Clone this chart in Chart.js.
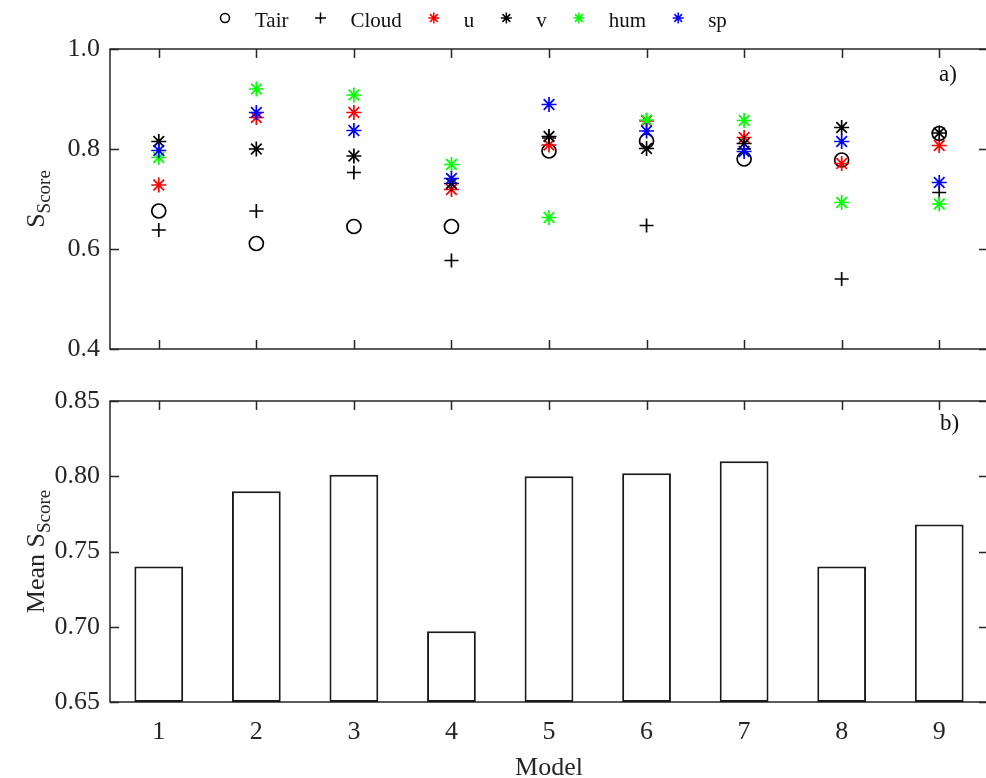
<!DOCTYPE html>
<html>
<head>
<meta charset="utf-8">
<script src="https://cdn.jsdelivr.net/npm/chart.js@4.4.1/dist/chart.umd.min.js"></script>
<style>
  html, body { margin:0; padding:0; background:#fff; overflow:hidden; width:986px; height:778px; }
  canvas { position:absolute; left:0; }
  #top { top:0; }
  #bot { top:380px; }
</style>
</head>
<body>
<canvas id="top" width="1000" height="380"></canvas>
<canvas id="bot" width="1000" height="404"></canvas>
<script>
// ---------- data ----------
const models = ['1','2','3','4','5','6','7','8','9'];
const tair  = [0.676, 0.611, 0.645, 0.645, 0.796, 0.816, 0.780, 0.778, 0.831];
const cloud = [0.638, 0.676, 0.753, 0.577, 0.822, 0.647, 0.800, 0.540, 0.713];
const u     = [0.728, 0.863, 0.873, 0.719, 0.808, 0.856, 0.823, 0.771, 0.807];
const v     = [0.815, 0.800, 0.786, 0.731, 0.825, 0.801, 0.811, 0.843, 0.832];
const hum   = [0.783, 0.920, 0.908, 0.769, 0.663, 0.858, 0.857, 0.693, 0.690];
const sp    = [0.797, 0.873, 0.837, 0.741, 0.889, 0.836, 0.795, 0.815, 0.733];
const meanScore = [0.740, 0.790, 0.801, 0.697, 0.800, 0.802, 0.810, 0.740, 0.768];
const topTicks = [0.4, 0.6, 0.8, 1.0];
const botTicks = [0.65, 0.70, 0.75, 0.80, 0.85];

const FONT = '"Liberation Serif", "Times New Roman", serif';
const AXC = '#262626';

function ds(label, data, style, color, idx) {
  return {
    label, data, showLine:false,
    pointStyle: style, pointRadius: style === 'star' ? 7.5 : 7, pointBorderWidth: 1.7,
    borderColor: color, pointBorderColor: color,
    backgroundColor: 'rgba(0,0,0,0)', pointBackgroundColor: 'rgba(0,0,0,0)',
    order: 10 - idx
  };
}

const framePlugin = {
  id: 'frame',
  beforeDatasetsDraw(chart) {
    const {ctx, chartArea:a, scales:{x, y}} = chart;
    const L = 9;
    ctx.save();
    ctx.strokeStyle = AXC;
    ctx.lineWidth = 1.5;
    ctx.beginPath();
    y.ticks.forEach(t => {
      const py = Math.round(y.getPixelForValue(t.value)) + 0.5;
      ctx.moveTo(a.left, py); ctx.lineTo(a.left + L, py);
      ctx.moveTo(a.right, py); ctx.lineTo(a.right - L, py);
    });
    chart.data.labels.forEach((_, i) => {
      const px = Math.round(x.getPixelForValue(i)) + 0.5;
      ctx.moveTo(px, a.top); ctx.lineTo(px, a.top + L);
      ctx.moveTo(px, a.bottom); ctx.lineTo(px, a.bottom - L);
    });
    ctx.stroke();
    ctx.strokeRect(a.left, a.top, a.right - a.left, a.bottom - a.top);
    ctx.restore();
  }
};

function yTitlePlugin(main, sub, cx) {
  return {
    id: 'ytitle',
    afterDraw(chart) {
      const {ctx, chartArea:a} = chart;
      const cy = (a.top + a.bottom) / 2;
      ctx.save();
      ctx.translate(cx, cy);
      ctx.rotate(-Math.PI / 2);
      ctx.fillStyle = AXC;
      ctx.textBaseline = 'alphabetic';
      ctx.textAlign = 'left';
      const mf = '26px ' + FONT, sf = '19px ' + FONT;
      ctx.font = mf; const w1 = ctx.measureText(main).width;
      ctx.font = sf; const w2 = ctx.measureText(sub).width;
      const x0 = -(w1 + w2) / 2;
      ctx.font = mf; ctx.fillText(main, x0, 0);
      ctx.font = sf; ctx.fillText(sub, x0 + w1, 6);
      ctx.restore();
    }
  };
}

function panelLabel(text, px, py) {
  return {
    id: 'plabel',
    afterDraw(chart) {
      const ctx = chart.ctx;
      ctx.save();
      ctx.font = '23px ' + FONT;
      ctx.fillStyle = '#111';
      ctx.textAlign = 'left';
      ctx.textBaseline = 'alphabetic';
      ctx.fillText(text, px, py);
      ctx.restore();
    }
  };
}

const legendPlugin = {
  id: 'customLegend',
  afterDraw(chart) {
    const ctx = chart.ctx;
    ctx.save();
    ctx.textBaseline = 'alphabetic';
    ctx.textAlign = 'left';
    let x = 206;
    const ym = 18, base = 27;
    chart.data.datasets.forEach(d => {
      const mx = x + 19;
      const r = d.pointStyle === 'circle' ? 4.5 : 5.5;
      ctx.strokeStyle = d.pointBorderColor;
      ctx.fillStyle = 'rgba(0,0,0,0)';
      ctx.lineWidth = 1.5;
      Chart.helpers.drawPoint(ctx, {pointStyle: d.pointStyle, radius: r, rotation: 0, borderWidth: 1.5}, mx, ym);
      ctx.font = '21px ' + FONT;
      ctx.fillStyle = '#111';
      const tx = x + 49;
      ctx.fillText(d.label, tx, base);
      x = tx + ctx.measureText(d.label).width + 13;
    });
    ctx.restore();
  }
};

const yTickFont = {family: FONT, size: 26};
function fixY(s) { s.width = 110; s.paddingTop = 0; s.paddingBottom = 0; }

new Chart(document.getElementById('top'), {
  type: 'line',
  data: {
    labels: models,
    datasets: [
      ds('Tair', tair, 'circle', '#000000', 0),
      ds('Cloud', cloud, 'cross', '#000000', 1),
      ds('u', u, 'star', '#ff0000', 2),
      ds('v', v, 'star', '#000000', 3),
      ds('hum', hum, 'star', '#00ff00', 4),
      ds('sp', sp, 'star', '#0000ff', 5)
    ]
  },
  options: {
    responsive: false, animation: false,
    layout: {autoPadding: false, padding: {top: 49, bottom: 31, left: 0, right: 12}},
    plugins: {legend: {display: false}, tooltip: {enabled: false}},
    scales: {
      x: {type: 'category', offset: true, display: false},
      y: {
        min: 0.4, max: 1.0,
        afterBuildTicks(s) { s.ticks = topTicks.map(vv => ({value: vv})); },
        ticks: {font: yTickFont, color: AXC, padding: 10, callback: vv => Number(vv).toFixed(1)},
        grid: {display: false, drawTicks: false},
        border: {display: false},
        afterFit: fixY
      }
    }
  },
  plugins: [framePlugin, legendPlugin, yTitlePlugin('S', 'Score', 44), panelLabel('a)', 939, 81)]
});

new Chart(document.getElementById('bot'), {
  type: 'bar',
  data: {
    labels: models,
    datasets: [{
      label: 'Mean S_Score', data: meanScore, base: 0.65,
      backgroundColor: '#ffffff', borderColor: '#1a1a1a', borderWidth: 2,
      borderSkipped: false, barPercentage: 0.5, categoryPercentage: 1.0
    }]
  },
  options: {
    responsive: false, animation: false,
    layout: {autoPadding: false, padding: {top: 21, bottom: 0, left: 0, right: 12}},
    plugins: {legend: {display: false}, tooltip: {enabled: false}},
    scales: {
      x: {
        type: 'category', offset: true,
        ticks: {font: {family: FONT, size: 26}, color: AXC, padding: 15, maxRotation: 0},
        grid: {display: false, drawTicks: false},
        border: {display: false},
        title: {display: true, text: 'Model', font: {family: FONT, size: 26}, color: AXC, padding: {top: 0, bottom: 0}},
        afterFit(s) { s.height = 82; s.paddingLeft = 0; s.paddingRight = 0; }
      },
      y: {
        min: 0.65, max: 0.85,
        afterBuildTicks(s) { s.ticks = botTicks.map(vv => ({value: vv})); },
        ticks: {font: yTickFont, color: AXC, padding: 10, callback: vv => Number(vv).toFixed(2)},
        grid: {display: false, drawTicks: false},
        border: {display: false},
        afterFit: fixY
      }
    }
  },
  plugins: [framePlugin, yTitlePlugin('Mean S', 'Score', 44), panelLabel('b)', 940, 430 - 380)]
});
</script>
</body>
</html>
